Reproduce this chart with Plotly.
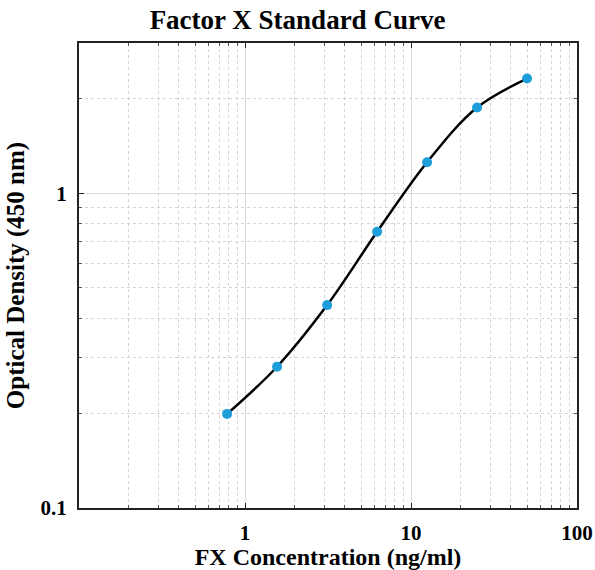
import plotly.graph_objects as go

conc = [0.78, 1.56, 3.125, 6.25, 12.5, 25, 50]
od = [0.199, 0.281, 0.441, 0.754, 1.254, 1.871, 2.312]
x_ticks = [1, 10, 100]
y_ticks = [0.1, 1]

x_minor = [k * 10.0 ** e for e in (-1, 0, 1) for k in range(2, 10)]
y_minor = [round(k * 10.0 ** e, 3) for e in (-1, 0) for k in range(2, 10) if k * 10.0 ** e < 3]

fig = go.Figure()
fig.add_trace(go.Scatter(
    x=conc, y=od, mode="lines+markers",
    line=dict(color="black", width=2.5, shape="spline", smoothing=1),
    marker=dict(color="#1e9fdc", size=10, line=dict(width=0)),
    showlegend=False,
))

font = "Liberation Serif"


def axis(minor_vals):
    return dict(
        type="log", showline=True, linecolor="#222", linewidth=2, mirror="ticks",
        ticks="inside", ticklen=5, tickcolor="#222", automargin=False,
        showgrid=True, gridcolor="#d9d9d9", gridwidth=1,
        zeroline=False,
        tickfont=dict(family=font, size=21, color="black", weight="bold"),
        minor=dict(tickmode="array", tickvals=minor_vals, showgrid=True,
                   gridcolor="#d4d4d4", griddash="dot", ticks="inside",
                   ticklen=3, tickcolor="#555"),
    )


fig.update_layout(
    width=595, height=570,
    margin=dict(l=79, r=18, t=43, b=62),
    paper_bgcolor="white", plot_bgcolor="white",
    title=dict(text="<b>Factor X Standard Curve</b>", x=0.5, xref="container",
               y=1 - 20 / 570, yref="container", yanchor="middle",
               font=dict(family=font, size=27, color="black")),
    xaxis=dict(axis(x_minor), range=[-1, 2], tickvals=x_ticks,
               ticktext=[str(v) for v in x_ticks], ticklabelstandoff=5,
               title=dict(text="<b>FX Concentration (ng/ml)</b>", standoff=3,
                          font=dict(family=font, size=24, color="black"))),
    yaxis=dict(axis(y_minor), range=[-1, 0.477], tickvals=y_ticks,
               ticktext=[str(v) for v in y_ticks], ticklabelstandoff=6,
               title=dict(text="<b>Optical Density (450 nm)</b>", standoff=9,
                          font=dict(family=font, size=25, color="black"))),
)

fig.write_html("out.html", config={"displayModeBar": False},
               post_script="document.body.style.margin='0px';")
